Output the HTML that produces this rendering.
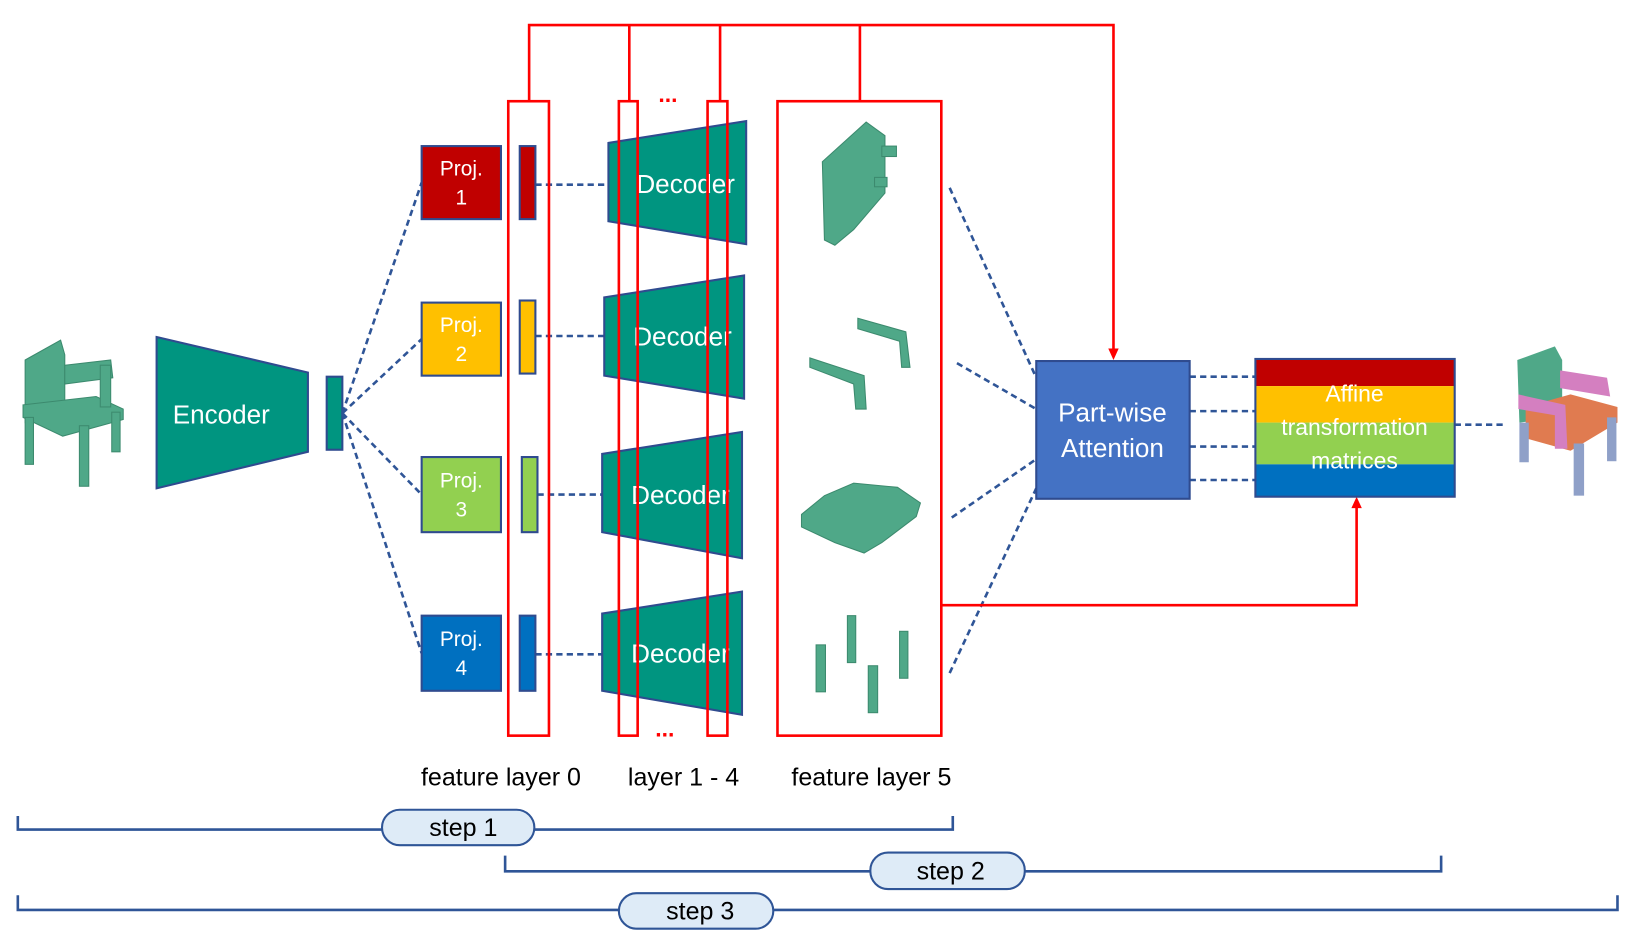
<!DOCTYPE html>
<html><head><meta charset="utf-8"><style>
html,body{margin:0;padding:0;background:#fff;}
svg{display:block;}
text{font-family:"Liberation Sans",sans-serif;}
</style></head><body>
<svg width="1628" height="936" viewBox="0 0 1560 897" xmlns="http://www.w3.org/2000/svg">
<defs>
<marker id="ar" markerWidth="10" markerHeight="10" refX="5" refY="9" orient="auto" markerUnits="userSpaceOnUse">
<path d="M0,0 L10,0 L5,10 Z" fill="#FF0000" transform="rotate(0)"/>
</marker>
</defs>
<!-- left chair -->
<g fill="#4FA888" stroke="#3C8A6E" stroke-width="1">
<polygon points="24,345 58,326 62,340 62,392 24,405"/>
<polygon points="62,350 106,345 108,362 62,368"/>
<polygon points="22,388 92,380 118,392 118,402 60,418 22,400"/>
<rect x="24" y="400" width="8" height="45"/>
<rect x="76" y="408" width="9" height="58"/>
<rect x="107" y="395" width="8" height="38"/>
<rect x="96" y="350" width="10" height="40"/>
</g>
<!-- encoder -->
<polygon points="150,323 295,357 295,433 150,468" fill="#009580" stroke="#2F4B8F" stroke-width="2"/>
<text x="212" y="406" font-size="25" fill="#fff" text-anchor="middle">Encoder</text>
<rect x="313" y="361" width="15" height="70" fill="#009580" stroke="#2F4B8F" stroke-width="2"/>
<g stroke="#2F5597" stroke-width="2.5" stroke-dasharray="6,4" fill="none">
<line x1="328" y1="396" x2="404" y2="175"/>
<line x1="328" y1="396" x2="404" y2="325"/>
<line x1="328" y1="396" x2="404" y2="474"/>
<line x1="328" y1="396" x2="404" y2="626"/>
<line x1="513" y1="177" x2="583" y2="177"/>
<line x1="513" y1="322" x2="579" y2="322"/>
<line x1="515" y1="474" x2="577" y2="474"/>
<line x1="513" y1="627" x2="577" y2="627"/>
<line x1="910" y1="180" x2="993" y2="362"/>
<line x1="917" y1="348" x2="993" y2="392"/>
<line x1="912" y1="496" x2="993" y2="440"/>
<line x1="910" y1="645" x2="993" y2="468"/>
<line x1="1140" y1="361" x2="1203" y2="361"/>
<line x1="1140" y1="394" x2="1203" y2="394"/>
<line x1="1140" y1="428" x2="1203" y2="428"/>
<line x1="1140" y1="460" x2="1203" y2="460"/>
<line x1="1394" y1="407" x2="1440" y2="407"/>
</g>
<!-- proj boxes -->
<g stroke="#2F4B8F" stroke-width="2">
<rect x="404" y="140" width="76" height="70" fill="#C00000"/>
<rect x="404" y="290" width="76" height="70" fill="#FFC000"/>
<rect x="404" y="438" width="76" height="72" fill="#92D050"/>
<rect x="404" y="590" width="76" height="72" fill="#0070C0"/>
<rect x="498" y="140" width="15" height="70" fill="#C00000"/>
<rect x="498" y="288" width="15" height="70" fill="#FFC000"/>
<rect x="500" y="438" width="15" height="72" fill="#92D050"/>
<rect x="498" y="590" width="15" height="72" fill="#0070C0"/>
</g>
<g fill="#fff" font-size="20" text-anchor="middle">
<text x="442" y="168">Proj.</text><text x="442" y="196">1</text>
<text x="442" y="318">Proj.</text><text x="442" y="346">2</text>
<text x="442" y="467">Proj.</text><text x="442" y="495">3</text>
<text x="442" y="619">Proj.</text><text x="442" y="647">4</text>
</g>
<!-- decoders -->
<g fill="#009580" stroke="#2F4B8F" stroke-width="2">
<polygon points="583,137 715,116 715,234 583,212"/>
<polygon points="579,285 713,264 713,382 579,360"/>
<polygon points="577,435 711,414 711,535 577,510"/>
<polygon points="577,588 711,567 711,685 577,662"/>
</g>
<g fill="#fff" font-size="25" text-anchor="middle">
<text x="657" y="185">Decoder</text>
<text x="654" y="331">Decoder</text>
<text x="652" y="483">Decoder</text>
<text x="652" y="635">Decoder</text>
</g>
<!-- parts -->
<g fill="#4FA888" stroke="#3C8A6E" stroke-width="1">
<polygon points="788,155 830,117 848,130 848,185 818,220 800,235 790,230"/>
<rect x="845" y="140" width="14" height="10"/><rect x="838" y="170" width="12" height="9"/>
<polygon points="822,305 868,318 872,352 864,352 862,327 822,315"/>
<polygon points="776,343 828,360 830,392 820,392 818,368 776,352"/>
<polygon points="768,493 790,475 818,463 860,467 882,482 878,495 845,520 828,530 800,520 768,505"/>
<rect x="782" y="618" width="9" height="45"/><rect x="812" y="590" width="8" height="45"/>
<rect x="862" y="605" width="8" height="45"/><rect x="832" y="638" width="9" height="45"/>
</g>
<!-- red frames -->
<g stroke="#FF0000" stroke-width="2.5" fill="none">
<rect x="487" y="97" width="39" height="608"/>
<rect x="593" y="97" width="18" height="608"/>
<rect x="678" y="97" width="19" height="608"/>
<rect x="745" y="97" width="157" height="608"/>
<polyline points="507,97 507,24 1067,24 1067,336"/>
<line x1="603" y1="97" x2="603" y2="24"/>
<line x1="690" y1="97" x2="690" y2="24"/>
<line x1="824" y1="97" x2="824" y2="24"/>
<polyline points="902,580 1300,580 1300,484"/>
</g>
<polygon points="1062,334 1072,334 1067,345" fill="#FF0000"/>
<polygon points="1295,487 1305,487 1300,476" fill="#FF0000"/>
<text x="640" y="98" font-size="22" fill="#FF0000" text-anchor="middle" font-weight="bold">...</text>
<text x="637" y="706" font-size="22" fill="#FF0000" text-anchor="middle" font-weight="bold">...</text>
<!-- attention -->
<rect x="993" y="346" width="147" height="132" fill="#4472C4" stroke="#2F4B8F" stroke-width="2"/>
<text x="1066" y="404" font-size="25" fill="#fff" text-anchor="middle">Part-wise</text>
<text x="1066" y="438" font-size="25" fill="#fff" text-anchor="middle">Attention</text>
<!-- affine -->
<rect x="1203" y="344" width="191" height="26" fill="#C00000"/>
<rect x="1203" y="370" width="191" height="35" fill="#FFC000"/>
<rect x="1203" y="405" width="191" height="40" fill="#92D050"/>
<rect x="1203" y="445" width="191" height="31" fill="#0070C0"/>
<rect x="1203" y="344" width="191" height="132" fill="none" stroke="#2F4B8F" stroke-width="2"/>
<g fill="#fff" font-size="22" text-anchor="middle">
<text x="1298" y="385">Affine</text>
<text x="1298" y="417">transformation</text>
<text x="1298" y="449">matrices</text>
</g>
<!-- right chair -->
<g stroke-width="1">
<polygon points="1454,345 1490,332 1497,345 1497,400 1456,405" fill="#4FA888"/>
<polygon points="1462,390 1505,378 1550,390 1550,405 1505,432 1462,420" fill="#E07B50"/>
<polygon points="1495,355 1540,362 1543,380 1495,372" fill="#D47FC0"/>
<polygon points="1455,378 1500,388 1502,430 1490,430 1490,398 1455,392" fill="#D47FC0"/>
<rect x="1456" y="405" width="9" height="38" fill="#8FA0C8"/>
<rect x="1508" y="425" width="10" height="50" fill="#8FA0C8"/>
<rect x="1540" y="400" width="9" height="42" fill="#8FA0C8"/>
</g>
<!-- labels -->
<g font-size="24" fill="#000" text-anchor="middle">
<text x="480" y="753">feature layer 0</text>
<text x="655" y="753">layer 1 - 4</text>
<text x="835" y="753">feature layer 5</text>
</g>
<!-- steps -->
<g stroke="#2F5597" stroke-width="2.5" fill="none">
<polyline points="17,782 17,795 913,795 913,782"/>
<polyline points="484,820 484,835 1381,835 1381,820"/>
<polyline points="17,858 17,872 1550,872 1550,858"/>
</g>
<g fill="#DEEBF7" stroke="#2F5597" stroke-width="2">
<rect x="366" y="776" width="146" height="34" rx="17"/>
<rect x="834" y="817" width="148" height="35" rx="17"/>
<rect x="593" y="856" width="148" height="34" rx="17"/>
</g>
<g font-size="24" fill="#000" text-anchor="middle">
<text x="444" y="801">step 1</text>
<text x="911" y="843">step 2</text>
<text x="671" y="881">step 3</text>
</g>
</svg>
</body></html>
